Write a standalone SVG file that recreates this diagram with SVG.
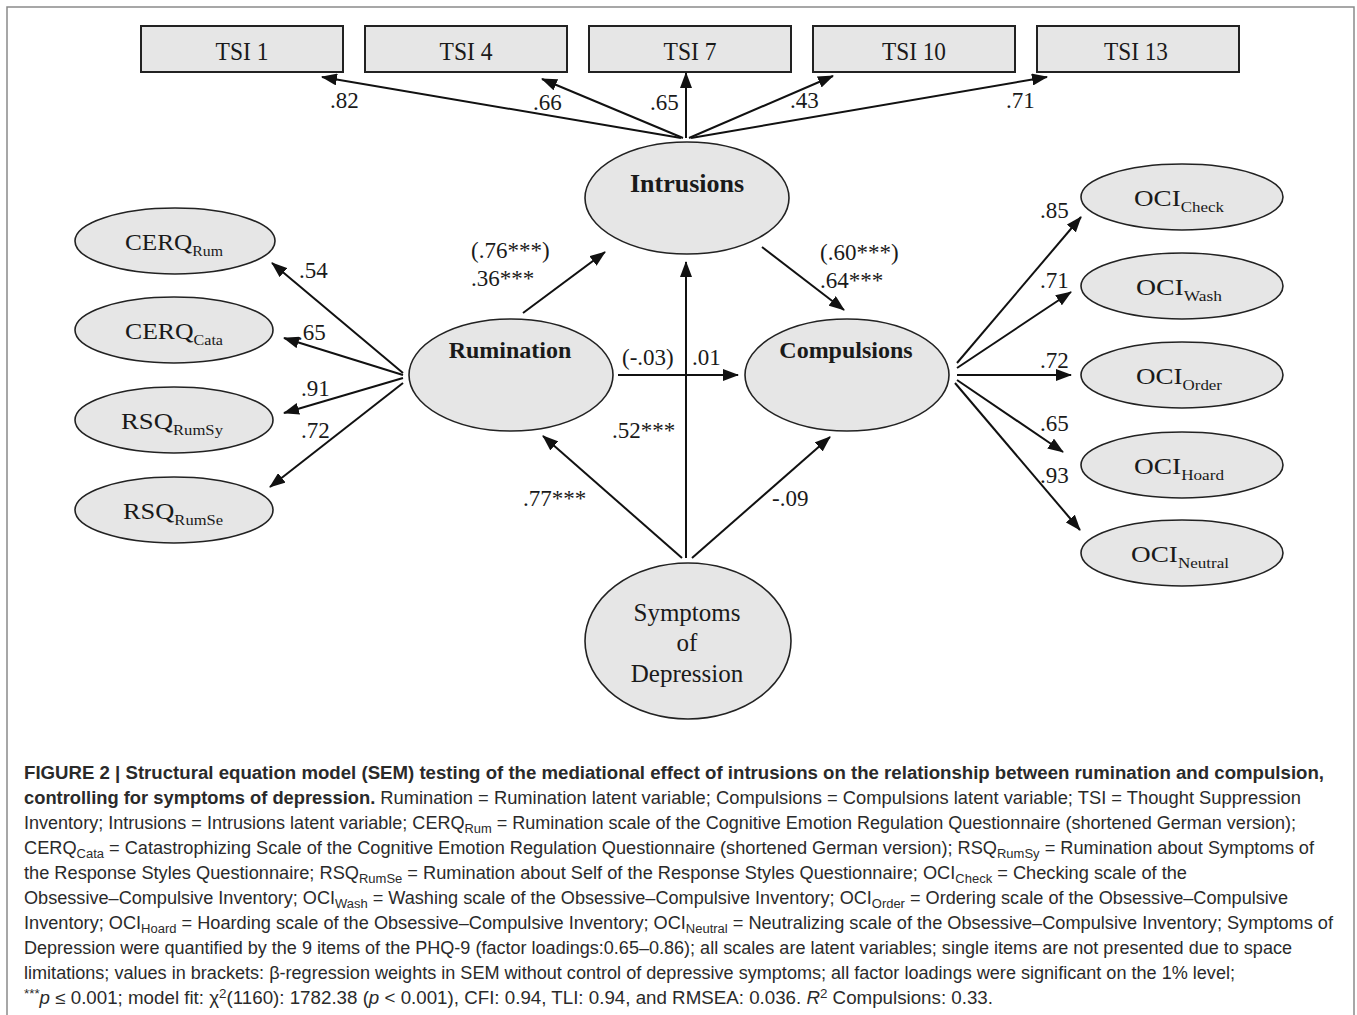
<svg xmlns="http://www.w3.org/2000/svg" width="1357" height="1015" viewBox="0 0 1357 1015">
<defs>
<marker id="ah" markerUnits="userSpaceOnUse" markerWidth="16" markerHeight="12" refX="15" refY="6" orient="auto">
<path d="M0,0 L16,6 L0,12 z" fill="#111"/>
</marker>
</defs>
<style>
.box{fill:#e6e6e6;stroke:#222;stroke-width:2}
.ell{fill:#e6e6e6;stroke:#222;stroke-width:1.6}
.nt{font-family:"Liberation Serif","Times New Roman",serif;fill:#1a1a1a;text-anchor:middle}
.lab{font-family:"Liberation Serif","Times New Roman",serif;font-size:23px;fill:#1a1a1a}
.b{font-weight:bold}
.conn line{stroke:#111;stroke-width:2;marker-end:url(#ah)}
.cap{font-family:"Liberation Sans Narrow","Liberation Sans",Arial,sans-serif;font-size:17.5px;fill:#2a2a2a}
</style>
<rect x="0" y="0" width="1357" height="1015" fill="#fff"/>
<path d="M7,1015 V7 H1354 V1015" fill="none" stroke="#8a8a8a" stroke-width="1.5"/>

<g id="tsi1"><rect class="box" x="141" y="26" width="202" height="46"/><text class="nt" x="242" y="60" font-size="25" textLength="53" lengthAdjust="spacingAndGlyphs">TSI 1</text></g>
<g id="tsi4"><rect class="box" x="365" y="26" width="202" height="46"/><text class="nt" x="466" y="60" font-size="25" textLength="53" lengthAdjust="spacingAndGlyphs">TSI 4</text></g>
<g id="tsi7"><rect class="box" x="589" y="26" width="202" height="46"/><text class="nt" x="690" y="60" font-size="25" textLength="53" lengthAdjust="spacingAndGlyphs">TSI 7</text></g>
<g id="tsi10"><rect class="box" x="813" y="26" width="202" height="46"/><text class="nt" x="914" y="60" font-size="25" textLength="64" lengthAdjust="spacingAndGlyphs">TSI 10</text></g>
<g id="tsi13"><rect class="box" x="1037" y="26" width="202" height="46"/><text class="nt" x="1136" y="60" font-size="25" textLength="64" lengthAdjust="spacingAndGlyphs">TSI 13</text></g>

<g id="intrusions"><ellipse class="ell" cx="687" cy="198" rx="102" ry="56"/><text class="nt b" x="687" y="192" font-size="26">Intrusions</text></g>
<g id="rumination"><ellipse class="ell" cx="511" cy="375" rx="102" ry="56"/><text class="nt b" x="510" y="358" font-size="24">Rumination</text></g>
<g id="compulsions"><ellipse class="ell" cx="847" cy="375" rx="102" ry="56"/><text class="nt b" x="846" y="358" font-size="24">Compulsions</text></g>
<g id="depression"><ellipse class="ell" cx="688" cy="641" rx="103" ry="78"/><text class="nt" x="687" y="621" font-size="25">Symptoms</text><text class="nt" x="687" y="651" font-size="25">of</text><text class="nt" x="687" y="682" font-size="25">Depression</text></g>

<g id="cerq_rum"><ellipse class="ell" cx="175" cy="241" rx="100" ry="33"/><text class="nt" x="174" y="250" font-size="24" textLength="98" lengthAdjust="spacingAndGlyphs">CERQ<tspan font-size="15" dy="6">Rum</tspan></text></g>
<g id="cerq_cata"><ellipse class="ell" cx="174" cy="330" rx="99" ry="33"/><text class="nt" x="174" y="339" font-size="24" textLength="98" lengthAdjust="spacingAndGlyphs">CERQ<tspan font-size="15" dy="6">Cata</tspan></text></g>
<g id="rsq_rumsy"><ellipse class="ell" cx="174" cy="420" rx="99" ry="33"/><text class="nt" x="172" y="429" font-size="24" textLength="102" lengthAdjust="spacingAndGlyphs">RSQ<tspan font-size="15" dy="6">RumSy</tspan></text></g>
<g id="rsq_rumse"><ellipse class="ell" cx="174" cy="510" rx="99" ry="33"/><text class="nt" x="173" y="519" font-size="24" textLength="100" lengthAdjust="spacingAndGlyphs">RSQ<tspan font-size="15" dy="6">RumSe</tspan></text></g>

<g id="oci_check"><ellipse class="ell" cx="1182" cy="197" rx="101" ry="33"/><text class="nt" x="1179" y="206" font-size="24" textLength="90" lengthAdjust="spacingAndGlyphs">OCI<tspan font-size="15" dy="6">Check</tspan></text></g>
<g id="oci_wash"><ellipse class="ell" cx="1182" cy="286" rx="101" ry="33"/><text class="nt" x="1179" y="295" font-size="24" textLength="86" lengthAdjust="spacingAndGlyphs">OCI<tspan font-size="15" dy="6">Wash</tspan></text></g>
<g id="oci_order"><ellipse class="ell" cx="1182" cy="375" rx="101" ry="33"/><text class="nt" x="1179" y="384" font-size="24" textLength="86" lengthAdjust="spacingAndGlyphs">OCI<tspan font-size="15" dy="6">Order</tspan></text></g>
<g id="oci_hoard"><ellipse class="ell" cx="1182" cy="465" rx="101" ry="33"/><text class="nt" x="1179" y="474" font-size="24" textLength="90" lengthAdjust="spacingAndGlyphs">OCI<tspan font-size="15" dy="6">Hoard</tspan></text></g>
<g id="oci_neutral"><ellipse class="ell" cx="1182" cy="553" rx="101" ry="33"/><text class="nt" x="1180" y="562" font-size="24" textLength="98" lengthAdjust="spacingAndGlyphs">OCI<tspan font-size="15" dy="6">Neutral</tspan></text></g>

<g id="connectors" class="conn">
<line x1="681" y1="138" x2="322" y2="77"/>
<line x1="683" y1="138" x2="542" y2="79"/>
<line x1="686" y1="138" x2="686" y2="73"/>
<line x1="689" y1="138" x2="833" y2="76"/>
<line x1="691" y1="138" x2="1047" y2="77"/>
<line x1="523" y1="313" x2="605" y2="252"/>
<line x1="403" y1="373" x2="272" y2="263"/>
<line x1="403" y1="375" x2="284" y2="338"/>
<line x1="403" y1="378" x2="284" y2="413"/>
<line x1="403" y1="383" x2="270" y2="487"/>
<line x1="618" y1="375" x2="738" y2="375"/>
<line x1="762" y1="247" x2="844" y2="310"/>
<line x1="682" y1="558" x2="543" y2="436"/>
<line x1="686" y1="558" x2="686" y2="262"/>
<line x1="692" y1="558" x2="830" y2="437"/>
<line x1="957" y1="363" x2="1081" y2="217"/>
<line x1="957" y1="368" x2="1071" y2="292"/>
<line x1="957" y1="375" x2="1071" y2="375"/>
<line x1="957" y1="380" x2="1063" y2="452"/>
<line x1="955" y1="383" x2="1080" y2="530"/>
</g>

<g id="labels" class="lab">
<text x="330" y="108">.82</text>
<text x="533" y="110">.66</text>
<text x="650" y="110">.65</text>
<text x="790" y="108">.43</text>
<text x="1006" y="108">.71</text>
<text x="471" y="258">(.76***)</text>
<text x="471" y="286">.36***</text>
<text x="820" y="260">(.60***)</text>
<text x="820" y="288">.64***</text>
<text x="622" y="365">(-.03)</text>
<text x="692" y="365">.01</text>
<text x="612" y="438">.52***</text>
<text x="523" y="506">.77***</text>
<text x="772" y="506">-.09</text>
<text x="299" y="278">.54</text>
<text x="297" y="340">.65</text>
<text x="301" y="396">.91</text>
<text x="301" y="438">.72</text>
<text x="1040" y="218">.85</text>
<text x="1040" y="288">.71</text>
<text x="1040" y="368">.72</text>
<text x="1040" y="431">.65</text>
<text x="1040" y="483">.93</text>
</g>

<g id="caption" class="cap">
<text x="24" y="779" font-weight="bold" textLength="1300" lengthAdjust="spacingAndGlyphs">FIGURE 2 | Structural equation model (SEM) testing of the mediational effect of intrusions on the relationship between rumination and compulsion,</text>
<text x="24" y="804" textLength="1277" lengthAdjust="spacingAndGlyphs"><tspan font-weight="bold">controlling for symptoms of depression.</tspan> Rumination = Rumination latent variable; Compulsions = Compulsions latent variable; TSI = Thought Suppression</text>
<text x="24" y="829" textLength="1272" lengthAdjust="spacingAndGlyphs">Inventory; Intrusions = Intrusions latent variable; CERQ<tspan font-size="12.5" dy="4">Rum</tspan><tspan dy="-4"> = Rumination scale of the Cognitive Emotion Regulation Questionnaire (shortened German version);</tspan></text>
<text x="24" y="854" textLength="1290" lengthAdjust="spacingAndGlyphs">CERQ<tspan font-size="12.5" dy="4">Cata</tspan><tspan dy="-4"> = Catastrophizing Scale of the Cognitive Emotion Regulation Questionnaire (shortened German version); RSQ</tspan><tspan font-size="12.5" dy="4">RumSy</tspan><tspan dy="-4"> = Rumination about Symptoms of</tspan></text>
<text x="24" y="879" textLength="1163" lengthAdjust="spacingAndGlyphs">the Response Styles Questionnaire; RSQ<tspan font-size="12.5" dy="4">RumSe</tspan><tspan dy="-4"> = Rumination about Self of the Response Styles Questionnaire; OCI</tspan><tspan font-size="12.5" dy="4">Check</tspan><tspan dy="-4"> = Checking scale of the</tspan></text>
<text x="24" y="904" textLength="1264" lengthAdjust="spacingAndGlyphs">Obsessive–Compulsive Inventory; OCI<tspan font-size="12.5" dy="4">Wash</tspan><tspan dy="-4"> = Washing scale of the Obsessive–Compulsive Inventory; OCI</tspan><tspan font-size="12.5" dy="4">Order</tspan><tspan dy="-4"> = Ordering scale of the Obsessive–Compulsive</tspan></text>
<text x="24" y="929" textLength="1309" lengthAdjust="spacingAndGlyphs">Inventory; OCI<tspan font-size="12.5" dy="4">Hoard</tspan><tspan dy="-4"> = Hoarding scale of the Obsessive–Compulsive Inventory; OCI</tspan><tspan font-size="12.5" dy="4">Neutral</tspan><tspan dy="-4"> = Neutralizing scale of the Obsessive–Compulsive Inventory; Symptoms of</tspan></text>
<text x="24" y="954" textLength="1268" lengthAdjust="spacingAndGlyphs">Depression were quantified by the 9 items of the PHQ-9 (factor loadings:0.65–0.86); all scales are latent variables; single items are not presented due to space</text>
<text x="24" y="979" textLength="1211" lengthAdjust="spacingAndGlyphs">limitations; values in brackets: β-regression weights in SEM without control of depressive symptoms; all factor loadings were significant on the 1% level;</text>
<text x="24" y="1004" textLength="969" lengthAdjust="spacingAndGlyphs"><tspan font-size="12.5" dy="-6">***</tspan><tspan font-style="italic" dy="6">p</tspan> ≤ 0.001; model fit: χ<tspan font-size="12.5" dy="-6">2</tspan><tspan dy="6">(1160): 1782.38 (</tspan><tspan font-style="italic">p</tspan> &lt; 0.001), CFI: 0.94, TLI: 0.94, and RMSEA: 0.036. <tspan font-style="italic">R</tspan><tspan font-size="12.5" dy="-6">2</tspan><tspan dy="6"> Compulsions: 0.33.</tspan></text>
</g>
</svg>
